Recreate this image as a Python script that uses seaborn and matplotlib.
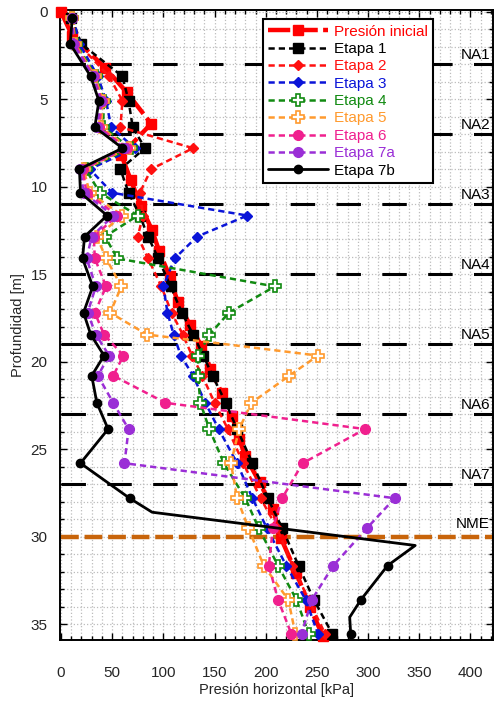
import numpy as np
import pandas as pd
import matplotlib
matplotlib.use("Agg")
import matplotlib.pyplot as plt
from matplotlib.ticker import MultipleLocator
import seaborn as sns

# Depth grid shared by the stages [m]
depth = [0.35, 1.85, 3.7, 5.1, 6.6, 7.8, 9.0, 10.35, 11.65, 12.85, 14.1, 15.7,
         17.2, 18.45, 19.65, 20.8, 22.35, 23.85, 25.8, 27.8, 29.5, 31.65, 33.6, 35.55]

# Initial pressure has its own depths
depth_ini = [0, 1.4, 3.2, 4.6, 6.4, 8.2, 9.6, 11.1, 12.5, 13.7, 15.1, 16.6, 17.9,
             19.1, 20.4, 21.8, 23.1, 24.4, 25.4, 26.9, 28.4, 30.1, 32.1, 34.0, 35.7]
p_ini = [0, 11, 43, 64, 88, 59, 68, 78, 89, 96, 106, 114, 126,
         137, 146, 157, 167, 174, 180, 194, 207, 215, 230, 243, 256]

p_etapa1 = [10, 20, 60, 66, 70, 82, 58, 66, 77, 85, 95, 107,
            118, 129, 139, 148, 161, 172, 187, 202, 216, 232, 247, 265]
p_etapa2 = [10, 17, 47, 60, 58, 129, 88, 77, 80, 75, 85, 98,
            108, 119, 128, 138, 150, 163, 178, 195, 211, 226, 242, 258]
p_etapa3 = [12, 18, 36, 44, 49, 72, 28, 50, 182, 133, 111, 100,
            104, 110, 117, 129, 141, 154, 172, 187, 201, 220, 239, 251]
p_etapa4 = [11, 15, 34, 42, 41, 68, 24, 38, 75, 43, 55, 209,
            164, 145, 134, 134, 136, 145, 159, 180, 193, 212, 230, 242]
p_etapa5 = [11, 14, 33, 41, 39, 66, 22, 28, 60, 35, 44, 59,
            48, 84, 251, 223, 186, 174, 166, 172, 183, 198, 222, 229]
p_etapa6 = [11, 13, 32, 40, 37, 64, 21, 25, 55, 32, 33, 44,
            33, 42, 61, 51, 102, 297, 236, 216, 207, 203, 212, 225]
p_etapa7a = [11, 12, 31, 39, 35, 62, 19, 22, 51, 30, 25, 34,
             26, 34, 47, 36, 51, 66, 62, 326, 299, 266, 245, 235]

depth_7b = [0.35, 1.85, 3.7, 5.1, 6.6, 7.8, 9.0, 10.35, 11.65, 12.85, 14.1, 15.7,
            17.2, 18.45, 19.65, 20.8, 22.35, 23.85, 25.8, 27.8, 28.6, 30.5,
            31.65, 33.6, 34.6, 35.55]
p_etapa7b = [11, 9, 29, 37, 33, 60, 18, 19, 45, 23, 21, 31,
             22, 29, 42, 30, 35, 46, 19, 67, 89, 346,
             319, 293, 282, 283]
marks_7b = [i for i in range(len(depth_7b)) if i not in (20, 21, 24)]

na_depths = [3, 7, 11, 15, 19, 23, 27]
na_labels = ["NA1", "NA2", "NA3", "NA4", "NA5", "NA6", "NA7"]
nme_depth = 30

sns.set_theme(style="white")
plt.rcParams['font.family'] = ['Liberation Sans', 'DejaVu Sans']

fig = plt.figure(figsize=(5.0, 7.06), dpi=100)
ax = fig.add_axes([0.12, 0.0935, 0.866, 0.8925])

XMAX = 422

# reference levels
for d, lab in zip(na_depths, na_labels):
    ax.plot([0, XMAX], [d, d], color="black", lw=2.2, dashes=(8, 7), zorder=1,
            solid_capstyle="butt")
    ax.text(419, d - 0.12, lab, ha="right", va="bottom", fontsize=11, color="black")
ax.plot([0, XMAX], [nme_depth, nme_depth], color="#c8640a", lw=3.2, dashes=(4, 1.3), zorder=1)
ax.text(419, nme_depth - 0.3, "NME", ha="right", va="bottom", fontsize=11, color="black")

series = [
    ("Presión inicial", depth_ini, p_ini, dict(color="#ff0000", lw=3.2, dashes=(5, 1.2), marker="s",
                                               markersize=7, markerfacecolor="#ff0000",
                                               markeredgecolor="#ff0000", markeredgewidth=1,
                                               clip_on=False)),
    ("Etapa 1", depth, p_etapa1, dict(color="black", lw=1.8, dashes=(2.5, 1.6), marker="s", markersize=6.5,
                                      markerfacecolor="black", markeredgecolor="black", markeredgewidth=1)),
    ("Etapa 2", depth, p_etapa2, dict(color="#ff1010", lw=1.8, dashes=(2.5, 1.6), marker="D", markersize=5.5,
                                      markerfacecolor="#ff1010", markeredgecolor="#ff1010", markeredgewidth=1)),
    ("Etapa 3", depth, p_etapa3, dict(color="#0a14d8", lw=1.8, dashes=(2.5, 1.6), marker="D", markersize=5.5,
                                      markerfacecolor="#0a14d8", markeredgecolor="#0a14d8", markeredgewidth=1)),
    ("Etapa 4", depth, p_etapa4, dict(color="#118a11", lw=1.8, dashes=(2.5, 1.6), marker="P", markersize=8,
                                      markerfacecolor="white", markeredgecolor="#118a11", markeredgewidth=1.2)),
    ("Etapa 5", depth, p_etapa5, dict(color="#ff9a2e", lw=1.8, dashes=(2.5, 1.6), marker="P", markersize=8,
                                      markerfacecolor="white", markeredgecolor="#ff9a2e", markeredgewidth=1.2)),
    ("Etapa 6", depth, p_etapa6, dict(color="#f0208e", lw=1.8, dashes=(2.5, 1.6), marker="o", markersize=7,
                                      markerfacecolor="#f0208e", markeredgecolor="#f0208e", markeredgewidth=1)),
    ("Etapa 7a", depth, p_etapa7a, dict(color="#9a2ed6", lw=1.8, dashes=(2.5, 1.6), marker="o", markersize=7,
                                        markerfacecolor="#9a2ed6", markeredgecolor="#9a2ed6", markeredgewidth=1)),
    ("Etapa 7b", depth_7b, p_etapa7b, dict(color="black", lw=2, marker="o", markersize=6,
                                           markerfacecolor="black", markeredgecolor="black",
                                           markeredgewidth=1, markevery=marks_7b)),
]

for i, (name, d, p, kw) in enumerate(series):
    df = pd.DataFrame({"p": p, "d": d})
    sns.lineplot(data=df, x="p", y="d", sort=False, estimator=None, ax=ax,
                 label=name, zorder=3 + i, **kw)

ax.set_xlim(-1, XMAX)
ax.set_ylim(35.9, -0.1)
ax.xaxis.set_major_locator(MultipleLocator(50))
ax.xaxis.set_minor_locator(MultipleLocator(10))
ax.yaxis.set_major_locator(MultipleLocator(5))
ax.yaxis.set_minor_locator(MultipleLocator(1))
ax.grid(which="both", color="#bcbcbc", linestyle=":", linewidth=0.9)
ax.set_axisbelow(True)

ax.tick_params(which="both", direction="in", top=True, right=True, bottom=True, left=True,
               color="black", width=1)
ax.tick_params(which="major", length=5, labelsize=11)
ax.tick_params(which="minor", length=3)
ax.tick_params(axis="x", which="major", pad=19)
ax.tick_params(axis="y", which="major", pad=9)
for s in ax.spines.values():
    s.set_color("black")
    s.set_linewidth(1.4)

ax.set_xlabel("Presión horizontal [kPa]", fontsize=10.5, labelpad=2)
ax.set_ylabel("Profundidad [m]", fontsize=10.5, labelpad=4)

handles, labels = ax.get_legend_handles_labels()
leg = ax.legend(handles, labels, loc="upper right", bbox_to_anchor=(0.862, 0.985),
                fontsize=11, handlelength=3.9, labelspacing=0.22, borderpad=0.35,
                handletextpad=0.4, borderaxespad=0, fancybox=False, framealpha=1,
                edgecolor="black", markerscale=1.0, numpoints=1)
leg.get_frame().set_linewidth(1.5)
leg.set_zorder(20)
for txt, (_, _, _, kw) in zip(leg.get_texts(), series):
    txt.set_color(kw["color"])

plt.savefig("out.png", dpi=100)
